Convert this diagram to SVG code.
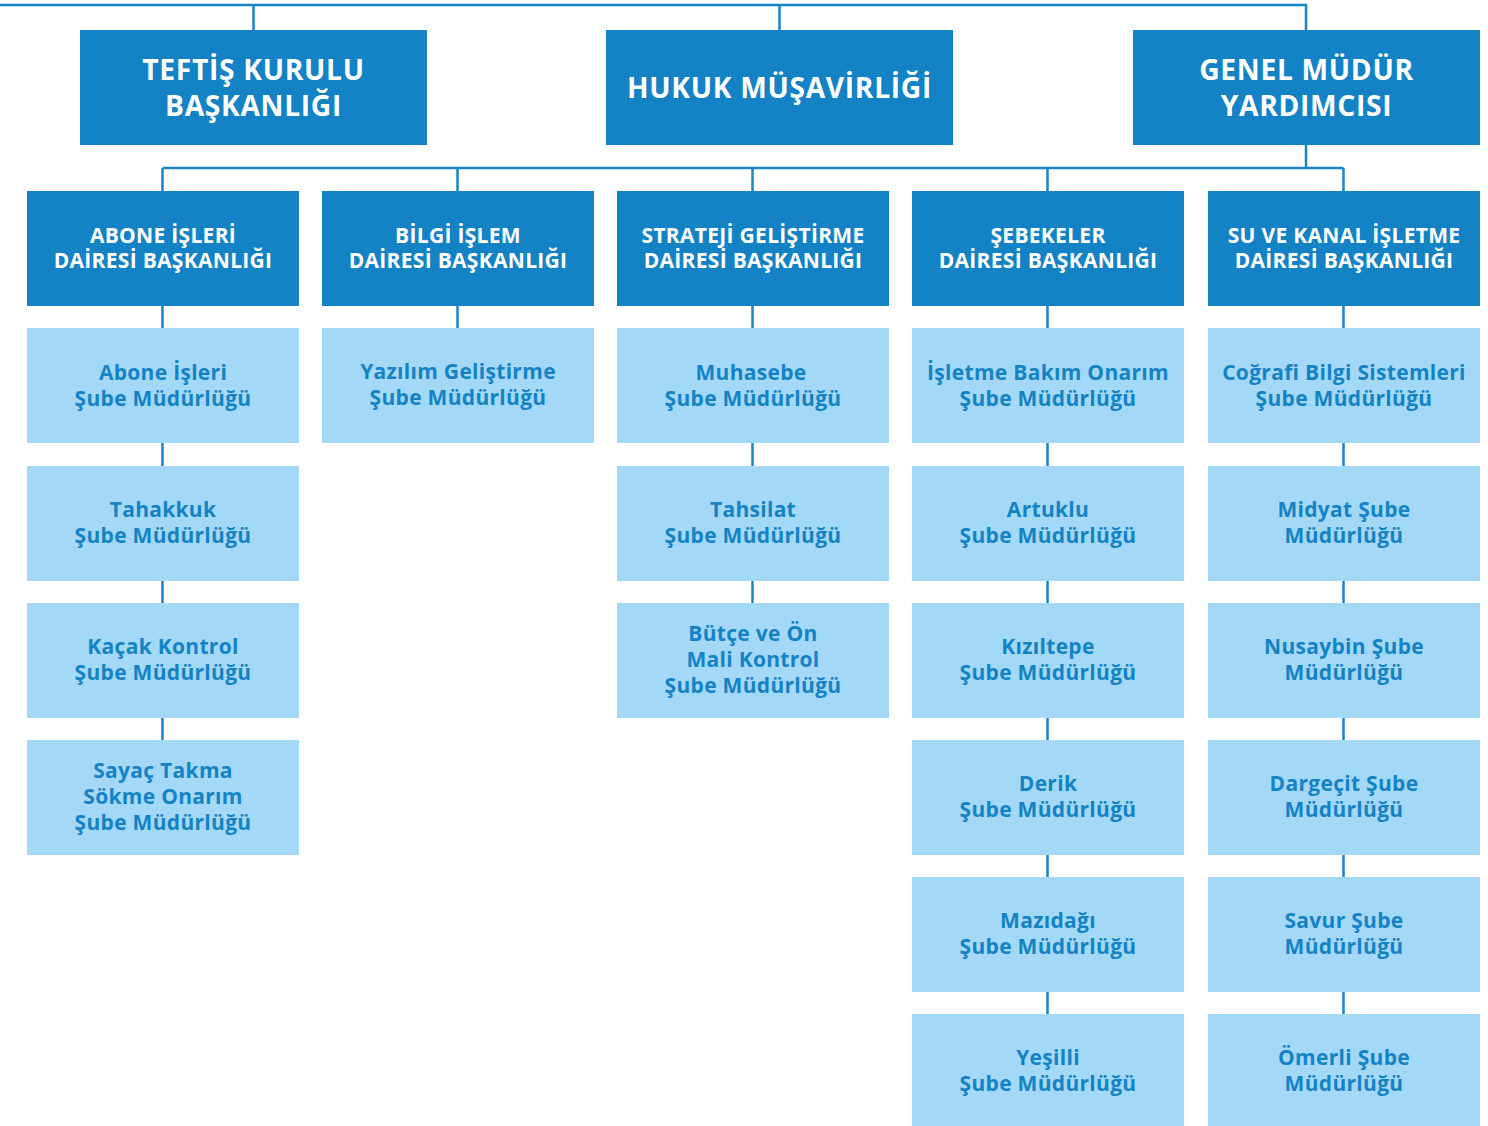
<svg xmlns="http://www.w3.org/2000/svg" width="1488" height="1126" viewBox="0 0 1488 1126">
  <style>
    .top { fill: #1383c6; }
    .dept { fill: #1383c6; }
    .unit { fill: #a3d9f6; }
    .t1 { font-family: "Open Sans", "Liberation Sans", sans-serif; font-weight: 700; font-size: 28.2px; letter-spacing: 0.7px; fill: #ffffff; text-anchor: middle; }
    .t2 { font-family: "Open Sans", "Liberation Sans", sans-serif; font-weight: 700; font-size: 21px; letter-spacing: 0.3px; fill: #ffffff; text-anchor: middle; }
    .t3 { font-family: "Open Sans", "Liberation Sans", sans-serif; font-weight: 700; font-size: 21px; letter-spacing: 0.3px; fill: #1383c6; text-anchor: middle; }
    .link { fill: none; stroke: #1a84c8; stroke-width: 2.5; }
  </style>

  <!-- connectors -->
  <g id="connectors" class="link">
    <path d="M0 5 H1306 V30"/>
    <path d="M253.5 5 V30"/>
    <path d="M779.5 5 V30"/>
    <path d="M1306 145 V168"/>
    <path d="M162.5 168 H1343.5"/>
    <path d="M162.5 168 V191 M457.5 168 V191 M752.5 168 V191 M1047.5 168 V191 M1343.5 168 V191"/>
    <!-- column 1 -->
    <path d="M162.5 306 V328 M162.5 443 V466 M162.5 581 V603 M162.5 718 V740"/>
    <!-- column 2 -->
    <path d="M457.5 306 V328"/>
    <!-- column 3 -->
    <path d="M752.5 306 V328 M752.5 443 V466 M752.5 581 V603"/>
    <!-- column 4 -->
    <path d="M1047.5 306 V328 M1047.5 443 V466 M1047.5 581 V603 M1047.5 718 V740 M1047.5 855 V877 M1047.5 992 V1014"/>
    <!-- column 5 -->
    <path d="M1343.5 306 V328 M1343.5 443 V466 M1343.5 581 V603 M1343.5 718 V740 M1343.5 855 V877 M1343.5 992 V1014"/>
  </g>

  <!-- top level -->
  <g id="teftis">
    <rect class="top" x="80" y="30" width="347" height="115"/>
    <text class="t1" x="253.5" y="79.5">TEFTİŞ KURULU</text>
    <text class="t1" x="253.5" y="115.5">BAŞKANLIĞI</text>
  </g>
  <g id="hukuk">
    <rect class="top" x="606" y="30" width="347" height="115"/>
    <text class="t1" x="779.5" y="97.5">HUKUK MÜŞAVİRLİĞİ</text>
  </g>
  <g id="gmy">
    <rect class="top" x="1133" y="30" width="347" height="115"/>
    <text class="t1" x="1306.5" y="79.5">GENEL MÜDÜR</text>
    <text class="t1" x="1306.5" y="115.5">YARDIMCISI</text>
  </g>

  <!-- departments -->
  <g id="abone-daire">
    <rect class="dept" x="27" y="191" width="272" height="115"/>
    <text class="t2" x="163" y="242.5">ABONE İŞLERİ</text>
    <text class="t2" x="163" y="268">DAİRESİ BAŞKANLIĞI</text>
  </g>
  <g id="bilgi-daire">
    <rect class="dept" x="322" y="191" width="272" height="115"/>
    <text class="t2" x="458" y="242.5">BİLGİ İŞLEM</text>
    <text class="t2" x="458" y="268">DAİRESİ BAŞKANLIĞI</text>
  </g>
  <g id="strateji-daire">
    <rect class="dept" x="617" y="191" width="272" height="115"/>
    <text class="t2" x="753" y="242.5">STRATEJİ GELİŞTİRME</text>
    <text class="t2" x="753" y="268">DAİRESİ BAŞKANLIĞI</text>
  </g>
  <g id="sebekeler-daire">
    <rect class="dept" x="912" y="191" width="272" height="115"/>
    <text class="t2" x="1048" y="242.5">ŞEBEKELER</text>
    <text class="t2" x="1048" y="268">DAİRESİ BAŞKANLIĞI</text>
  </g>
  <g id="su-kanal-daire">
    <rect class="dept" x="1208" y="191" width="272" height="115"/>
    <text class="t2" x="1344" y="242.5">SU VE KANAL İŞLETME</text>
    <text class="t2" x="1344" y="268">DAİRESİ BAŞKANLIĞI</text>
  </g>

  <!-- column 1 units -->
  <g id="abone-sube">
    <rect class="unit" x="27" y="328" width="272" height="115"/>
    <text class="t3" x="163" y="380">Abone İşleri</text>
    <text class="t3" x="163" y="406">Şube Müdürlüğü</text>
  </g>
  <g id="tahakkuk">
    <rect class="unit" x="27" y="466" width="272" height="115"/>
    <text class="t3" x="163" y="517">Tahakkuk</text>
    <text class="t3" x="163" y="543">Şube Müdürlüğü</text>
  </g>
  <g id="kacak">
    <rect class="unit" x="27" y="603" width="272" height="115"/>
    <text class="t3" x="163" y="654">Kaçak Kontrol</text>
    <text class="t3" x="163" y="680">Şube Müdürlüğü</text>
  </g>
  <g id="sayac">
    <rect class="unit" x="27" y="740" width="272" height="115"/>
    <text class="t3" x="163" y="778">Sayaç Takma</text>
    <text class="t3" x="163" y="804">Sökme Onarım</text>
    <text class="t3" x="163" y="830">Şube Müdürlüğü</text>
  </g>

  <!-- column 2 units -->
  <g id="yazilim">
    <rect class="unit" x="322" y="328" width="272" height="115"/>
    <text class="t3" x="458" y="379">Yazılım Geliştirme</text>
    <text class="t3" x="458" y="405">Şube Müdürlüğü</text>
  </g>

  <!-- column 3 units -->
  <g id="muhasebe">
    <rect class="unit" x="617" y="328" width="272" height="115"/>
    <text class="t3" x="751" y="380">Muhasebe</text>
    <text class="t3" x="753" y="406">Şube Müdürlüğü</text>
  </g>
  <g id="tahsilat">
    <rect class="unit" x="617" y="466" width="272" height="115"/>
    <text class="t3" x="753" y="517">Tahsilat</text>
    <text class="t3" x="753" y="543">Şube Müdürlüğü</text>
  </g>
  <g id="butce">
    <rect class="unit" x="617" y="603" width="272" height="115"/>
    <text class="t3" x="753" y="641">Bütçe ve Ön</text>
    <text class="t3" x="753" y="667">Mali Kontrol</text>
    <text class="t3" x="753" y="693">Şube Müdürlüğü</text>
  </g>

  <!-- column 4 units -->
  <g id="isletme">
    <rect class="unit" x="912" y="328" width="272" height="115"/>
    <text class="t3" x="1048" y="380">İşletme Bakım Onarım</text>
    <text class="t3" x="1048" y="406">Şube Müdürlüğü</text>
  </g>
  <g id="artuklu">
    <rect class="unit" x="912" y="466" width="272" height="115"/>
    <text class="t3" x="1048" y="517">Artuklu</text>
    <text class="t3" x="1048" y="543">Şube Müdürlüğü</text>
  </g>
  <g id="kiziltepe">
    <rect class="unit" x="912" y="603" width="272" height="115"/>
    <text class="t3" x="1048" y="654">Kızıltepe</text>
    <text class="t3" x="1048" y="680">Şube Müdürlüğü</text>
  </g>
  <g id="derik">
    <rect class="unit" x="912" y="740" width="272" height="115"/>
    <text class="t3" x="1048" y="791">Derik</text>
    <text class="t3" x="1048" y="817">Şube Müdürlüğü</text>
  </g>
  <g id="mazidagi">
    <rect class="unit" x="912" y="877" width="272" height="115"/>
    <text class="t3" x="1048" y="928">Mazıdağı</text>
    <text class="t3" x="1048" y="954">Şube Müdürlüğü</text>
  </g>
  <g id="yesilli">
    <rect class="unit" x="912" y="1014" width="272" height="112"/>
    <text class="t3" x="1048" y="1065">Yeşilli</text>
    <text class="t3" x="1048" y="1091">Şube Müdürlüğü</text>
  </g>

  <!-- column 5 units -->
  <g id="cbs">
    <rect class="unit" x="1208" y="328" width="272" height="115"/>
    <text class="t3" x="1344" y="380">Coğrafi Bilgi Sistemleri</text>
    <text class="t3" x="1344" y="406">Şube Müdürlüğü</text>
  </g>
  <g id="midyat">
    <rect class="unit" x="1208" y="466" width="272" height="115"/>
    <text class="t3" x="1344" y="517">Midyat Şube</text>
    <text class="t3" x="1344" y="543">Müdürlüğü</text>
  </g>
  <g id="nusaybin">
    <rect class="unit" x="1208" y="603" width="272" height="115"/>
    <text class="t3" x="1344" y="654">Nusaybin Şube</text>
    <text class="t3" x="1344" y="680">Müdürlüğü</text>
  </g>
  <g id="dargecit">
    <rect class="unit" x="1208" y="740" width="272" height="115"/>
    <text class="t3" x="1344" y="791">Dargeçit Şube</text>
    <text class="t3" x="1344" y="817">Müdürlüğü</text>
  </g>
  <g id="savur">
    <rect class="unit" x="1208" y="877" width="272" height="115"/>
    <text class="t3" x="1344" y="928">Savur Şube</text>
    <text class="t3" x="1344" y="954">Müdürlüğü</text>
  </g>
  <g id="omerli">
    <rect class="unit" x="1208" y="1014" width="272" height="112"/>
    <text class="t3" x="1344" y="1065">Ömerli Şube</text>
    <text class="t3" x="1344" y="1091">Müdürlüğü</text>
  </g>
</svg>
